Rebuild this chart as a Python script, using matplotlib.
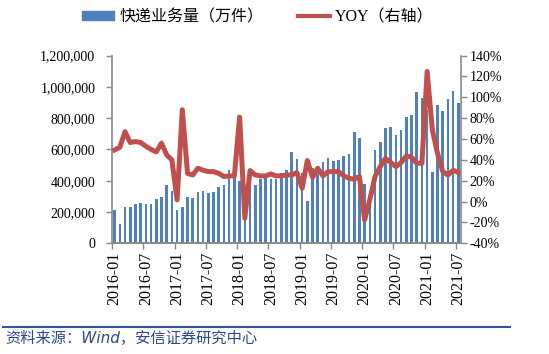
import numpy as np
import matplotlib.pyplot as plt
from matplotlib.lines import Line2D
from matplotlib.patches import Patch
from matplotlib.ticker import FuncFormatter
from matplotlib.font_manager import FontProperties

# Monthly express delivery volume (10k pieces) and YoY (%), 2016-01 .. 2021-07
volume = [210000, 126000, 232000, 232000, 249000, 255000, 249000, 249000, 281000, 298000, 374000, 336000,
          213000, 232000, 298000, 291000, 330000, 336000, 319000, 326000, 360000, 370000, 468000, 415000,
          398000, 195000, 385000, 374000, 411000, 415000, 408000, 408000, 447000, 468000, 583000, 538000,
          447000, 272000, 483000, 494000, 517000, 545000, 523000, 530000, 557000, 572000, 711000, 670000,
          380000, 271000, 596000, 649000, 738000, 745000, 691000, 723000, 809000, 819000, 968000, 926000,
          850000, 457000, 883000, 847000, 919000, 974000, 894000]

yoy = [49.5, 52, 67, 56.6, 57.5, 56.6, 53, 50, 47.6, 56, 44.7, 40,
       1.6, 88, 27, 25.5, 32, 30, 28.7, 28.7, 27, 24, 24.6, 24.6,
       81, -16, 29.7, 25.5, 24.6, 24.6, 26.5, 24.6, 24.6, 25.5, 25.5, 27.8,
       12.8, 39.3, 23.3, 32, 24.6, 28.7, 28.7, 28.7, 24.6, 22.4, 21.4, 24,
       -17.6, 2, 24, 33.5, 41.5, 37.4, 33.5, 37.4, 43.8, 42.5, 36.7, 36.7,
       124.7, 68.7, 46, 28.7, 25.5, 30, 27.8]

x_labels = ['2016-01', '2016-07', '2017-01', '2017-07', '2018-01', '2018-07',
            '2019-01', '2019-07', '2020-01', '2020-07', '2021-01', '2021-07']

serif = ['Liberation Serif', 'Noto Sans CJK SC']
gray = '#898989'

fig = plt.figure(figsize=(5.49, 3.54), dpi=100)
ax = fig.add_axes([0.204, 0.3127, 0.6357, 0.5305])

x = np.arange(len(volume))
ax.bar(x, volume, width=0.5, color='#4F81BD', zorder=2)
ax.set_xlim(-0.5, len(volume) - 0.5)
ax.set_ylim(0, 1200000)
ax.set_yticks(range(0, 1200001, 200000))
ax.yaxis.set_major_formatter(FuncFormatter(lambda v, p: f'{int(v):,}'))

# ticks at category boundaries, labels at centres
ax.set_xticks(np.arange(-0.5, len(volume), 6))
ax.set_xticklabels([])
ax.set_xticks(np.arange(0, len(volume), 6), minor=True)
ax.set_xticklabels(x_labels, minor=True, rotation=90, fontsize=11.5, family=serif)
ax.tick_params(axis='x', which='minor', length=0, pad=6)
ax.tick_params(axis='x', which='major', length=4, color=gray, width=1)
ax.tick_params(axis='y', length=4, color=gray, width=1, pad=8, labelsize=10)
for lab in ax.get_yticklabels():
    lab.set_family(serif)

ax2 = ax.twinx()
ax2.plot(x, yoy, color='#C0504D', lw=3.6, solid_joinstyle='round')
ax2.set_ylim(-40, 140)
ax2.set_yticks(range(-40, 141, 20))
ax2.yaxis.set_major_formatter(FuncFormatter(lambda v, p: f'{v:.0f}%'))
ax2.tick_params(axis='y', length=4, color=gray, width=1, pad=2, labelsize=10)
for lab in ax2.get_yticklabels():
    lab.set_family(serif)

for a in (ax, ax2):
    a.spines['top'].set_visible(False)
    for s in ('left', 'right', 'bottom'):
        a.spines[s].set_color(gray)
        a.spines[s].set_linewidth(1.2)
ax.spines['right'].set_visible(False)
ax2.spines['left'].set_visible(False)

handles = [Patch(color='#4F81BD', label='快递业务量（万件）'),
           Line2D([], [], color='#C0504D', lw=3, label='YOY（右轴）')]
fig.legend(handles=handles, loc='center', bbox_to_anchor=(0.47, 0.952), ncol=2, frameon=False,
           prop=FontProperties(family=serif, size=11.5), handlelength=2.0, handleheight=0.5,
           handletextpad=0.3, columnspacing=2.2)

# source line and note
fig.add_artist(Line2D([0.005, 0.929], [0.0763, 0.0763], transform=fig.transFigure,
                      color='#2F5597', lw=1.5))
fig.text(0.01, 0.045, '资料来源：Wind，安信证券研究中心', ha='left', va='center',
         fontsize=11, style='italic', color='#2A4A90',
         family=['DejaVu Sans', 'Noto Sans CJK SC'])

fig.savefig('out.png', dpi=100)
